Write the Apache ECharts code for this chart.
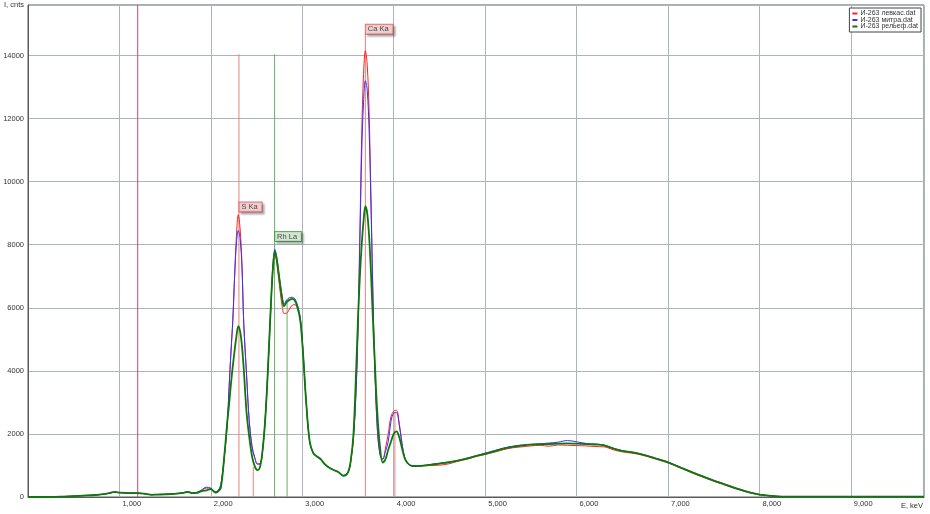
<!DOCTYPE html>
<html>
<head>
<meta charset="utf-8">
<script src="https://cdn.jsdelivr.net/npm/echarts@6/dist/echarts.min.js"></script>
<style>
html,body{margin:0;padding:0;background:#fff;}
#chart{width:930px;height:514px;}
</style>
</head>
<body>
<div id="chart"></div>
<script>
// Energies, eV
var energies = [
  0,100,200,300,400,500,600,700,800,900,950,1000,1100,1200,1300,1350,1400,1500,1600,1700,1750,1800,1850,1900,1950,2000,2050,
  2080,2110,2150,2180,2200,2220,2240,2260,2280,2300,2320,2340,2360,2390,2420,2450,2480,2510,2540,2570,
  2600,2630,2660,2680,2700,2720,2750,2780,2800,2830,2860,2890,2920,2950,2980,
  3010,3040,3080,3120,3160,3200,3250,3300,3350,3400,3450,3500,3530,
  3560,3590,3610,3630,3650,3670,3690,3710,3730,3750,3770,3790,3820,3850,3880,
  3910,3940,3970,4000,4030,4060,4090,4120,4150,4200,
  4300,4400,4500,4600,4700,4800,4900,5000,5100,5200,5300,5400,5500,5600,5700,5800,5900,6000,6100,6200,
  6300,6400,6500,6600,6700,6800,6900,7000,7100,7200,7300,7400,7500,7600,7700,7800,7900,8000,
  8200,8400,8600,8800,9000,9200,9400,9600,9800
];
// И-263 левкас.dat (red)
var levkas = [
  0,0,0,10,20,30,40,55,80,125,155,140,125,125,90,75,80,85,100,130,160,125,140,210,280,270,160,
  200,400,1350,2350,3500,4600,5600,7000,8300,8950,8500,7400,5500,3900,2400,1600,1250,1040,1060,1600,
  2700,4350,6200,7250,7690,7450,6700,6050,5820,5830,5960,6080,6100,5950,5600,
  4500,3100,1760,1390,1300,1220,1020,920,840,780,670,770,1120,
  1900,3500,5500,8400,11500,13400,14150,13700,12300,9700,6800,4400,2200,1350,1190,
  1550,2000,2550,2720,2750,2350,1700,1250,1080,990,
  980,1000,1010,1050,1130,1200,1280,1350,1420,1500,1560,1590,1620,1640,1610,1650,1640,1630,1620,1600,
  1590,1500,1430,1390,1340,1260,1170,1080,960,840,720,610,500,400,300,210,130,70,
  20,10,10,10,10,10,10,10,10
];
// И-263 митра.dat (blue)
var mitra = [
  0,0,0,5,15,30,45,55,80,130,155,140,125,125,90,70,75,90,105,140,165,130,150,230,310,280,170,
  200,400,1350,2350,3500,4600,5600,7000,8050,8450,8200,7300,5500,3900,2400,1600,1250,1050,1060,1600,
  2750,4450,6350,7400,7850,7620,6950,6350,6120,6250,6320,6330,6280,6050,5650,
  4550,3150,1780,1400,1290,1230,1030,930,850,790,690,790,1150,
  1900,3500,5400,8100,10900,12500,13200,12900,11700,9400,6700,4400,2200,1350,1200,
  1450,1750,2400,2660,2680,2300,1700,1250,1080,1000,
  990,1030,1070,1110,1160,1230,1310,1390,1470,1550,1610,1650,1670,1690,1710,1740,1790,1750,1700,1680,
  1650,1550,1470,1420,1370,1290,1200,1110,990,870,750,640,530,430,330,235,150,80,
  20,10,10,10,10,10,10,10,10
];
// И-263 рельеф.dat (green)
var relief = [
  0,0,0,5,15,30,45,55,80,130,160,140,125,125,90,70,75,85,100,130,160,120,130,190,210,250,140,
  180,300,1400,2400,2950,3600,4150,4650,5100,5420,5250,4800,4050,2700,1900,1300,970,850,980,1600,
  2700,4400,6300,7300,7790,7550,6900,6300,6050,6180,6250,6280,6220,6000,5550,
  4470,3110,1780,1390,1280,1200,1030,920,850,780,670,780,1150,
  2000,4100,5700,7000,8000,8750,9220,9000,8300,7200,5800,4500,2700,1580,1090,
  1200,1500,1750,2000,2080,1900,1550,1230,1080,980,
  990,1020,1060,1100,1150,1220,1300,1370,1450,1530,1590,1630,1660,1670,1680,1690,1700,1690,1680,1665,
  1640,1540,1460,1420,1360,1280,1190,1100,980,860,740,630,520,420,320,225,140,75,
  20,10,10,10,10,10,10,10,10
];
var seriesNames = ['И-263 левкас.dat', 'И-263 митра.dat', 'И-263 рельеф.dat'];

// Element marker lines (energy, eV; top, cnts)
var markerE   = [1200, 2307, 2464, 2697, 2834, 3690, 4013];
var markerTop = [15600, 14040, 950, 14040, 6150, 14700, 2700];
var markerKind = ['cursor', 'S', 'S', 'Rh', 'Rh', 'Ca', 'Ca'];

// Peak labels
var labelText = ['S Ka', 'Rh La', 'Ca Ka'];
var labelE    = [2307, 2697, 3690];
var labelI    = [9195, 8259, 14830];
var labelKind = ['S', 'Rh', 'Ca'];

var yMax = 15600, xMax = 9800;

var FONT = 'Liberation Sans, Arial, sans-serif';
var kindColor = {cursor:'#cc4470', S:'#ea8080', Rh:'#68b068', Ca:'#ea8080'};
var kindBg = {S:'#f9d3d3', Rh:'#d6efd6', Ca:'#f9d3d3'};
var kindBorder = {S:'#dd5555', Rh:'#3f9a3f', Ca:'#dd5555'};

function pairs(vals){ return energies.map(function(e,i){ return [e, vals[i]]; }); }

var markerSeries = markerE.map(function(e,i){
  return {
    name: 'marker' + i, type: 'line', z: 1, silent: true,
    data: [[e, 0], [e, markerTop[i]]],
    showSymbol: false, symbol: 'none',
    lineStyle: {color: kindColor[markerKind[i]], width: 1},
    itemStyle: {color: kindColor[markerKind[i]]}
  };
});

var chart = echarts.init(document.getElementById('chart'), null, {renderer:'canvas'});
chart.setOption({
  animation: false,
  backgroundColor: '#fff',
  grid: {left: 28, right: 6, top: 5, bottom: 17, show: true, borderColor: '#5a5a5a', borderWidth: 1, backgroundColor: '#fff'},
  legend: {
    data: seriesNames,
    orient: 'vertical',
    right: 9, top: 8,
    icon: 'rect', itemWidth: 5, itemHeight: 2, itemGap: -0.5,
    padding: [2, 3, 2, 3],
    backgroundColor: '#fff', borderColor: '#444', borderWidth: 1,
    textStyle: {fontFamily: FONT, fontSize: 7, color: '#333', lineHeight: 7, padding: [0,0,0,-2]},
    selectedMode: false
  },
  xAxis: {
    type: 'value', min: 0, max: xMax, interval: 1000,
    name: 'E, keV', nameLocation: 'end', nameGap: -1,
    nameTextStyle: {fontFamily: FONT, fontSize: 7.5, color: '#333', align: 'right', verticalAlign: 'top', padding: [5,0,0,0]},
    axisLine: {show: true, lineStyle: {color: '#5a5a5a'}},
    axisTick: {show: false},
    axisLabel: {
      fontFamily: FONT, fontSize: 7.5, color: '#333', align: 'left', margin: 3, padding: [0,0,0,3],
      showMinLabel: false, showMaxLabel: false,
      formatter: function(v){ return v.toLocaleString('en-US'); }
    },
    splitLine: {show: true, lineStyle: {color: '#aab4ba', width: 1}}
  },
  yAxis: {
    type: 'value', min: 0, max: yMax, interval: 2000,
    axisLine: {show: true, lineStyle: {color: '#5a5a5a'}},
    axisTick: {show: false},
    axisLabel: {
      fontFamily: FONT, fontSize: 7.5, color: '#333', margin: 4,
      formatter: function(v){ return v === yMax ? 'I, cnts' : String(v); }
    },
    splitLine: {show: true, lineStyle: {color: '#aab4ba', width: 1}}
  },
  series: markerSeries.concat([
    {name: seriesNames[0], type: 'line', data: pairs(levkas), showSymbol: false, smooth: 0.35, z: 3,
     color: '#ff2020', lineStyle: {color: '#ff2020', width: 1}},
    {name: seriesNames[1], type: 'line', data: pairs(mitra), showSymbol: false, smooth: 0.35, z: 4,
     color: '#3232ff', lineStyle: {color: '#3232ff', width: 1}},
    {name: seriesNames[2], type: 'line', data: pairs(relief), showSymbol: false, smooth: 0.35, z: 5,
     color: '#0b7a0b', lineStyle: {color: '#0b7a0b', width: 1.8}},
    {
      name: 'labels', type: 'scatter', z: 6, silent: true,
      symbolSize: 1, itemStyle: {color: 'rgba(0,0,0,0)'},
      data: labelE.map(function(e,i){
        var k = labelKind[i];
        return {
          value: [e, labelI[i]],
          label: {
            show: true, position: 'right', distance: 0,
            formatter: labelText[i],
            fontFamily: FONT, fontSize: 7.5, color: '#222',
            backgroundColor: kindBg[k], borderColor: kindBorder[k], borderWidth: 1,
            padding: [1, 4, 0, 2],
            shadowColor: 'rgba(0,0,0,0.28)', shadowBlur: 2, shadowOffsetX: 2, shadowOffsetY: 2
          }
        };
      })
    }
  ])
});
</script>
</body>
</html>
